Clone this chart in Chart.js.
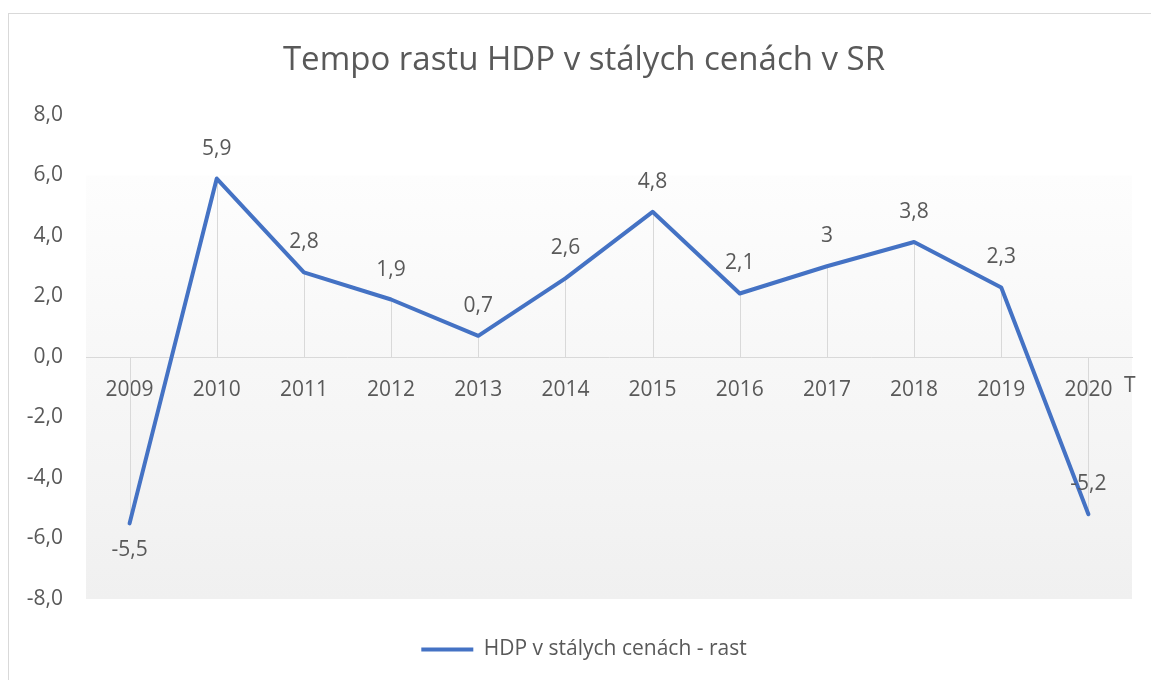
<!DOCTYPE html>
<html>
<head>
<meta charset="utf-8">
<script src="https://cdn.jsdelivr.net/npm/chart.js@4.4.0/dist/chart.umd.min.js"></script>
<style>
  body { margin: 0; background: #fff; }
  #wrap { position: relative; width: 1151px; height: 680px; overflow: hidden; }
  #frame { position: absolute; left: 8px; top: 13px; width: 1200px; height: 700px; border: 1px solid #d9d9d9; }
  canvas { position: absolute; left: 0; top: 0; }
</style>
</head>
<body>
<div id="wrap">
  <div id="frame"></div>
  <canvas id="hdpChart" width="1151" height="680"></canvas>
</div>
<script>
const years = ['2009', '2010', '2011', '2012', '2013', '2014', '2015', '2016', '2017', '2018', '2019', '2020'];
const growth = [-5.5, 5.9, 2.8, 1.9, 0.7, 2.6, 4.8, 2.1, 3, 3.8, 2.3, -5.2];
const labelBelow = [true, false, false, false, false, false, false, false, false, false, false, false];
const yTicks = [-8, -6, -4, -2, 0, 2, 4, 6, 8];

const textColor = '#595959';
const fontFamily = '"Open Sans", sans-serif';

const fmt = (v) => String(v).replace('.', ',');

// plot background, drop lines, data labels and the clipped "T"
const excelLook = {
  id: 'excelLook',
  beforeDraw(chart) {
    const { ctx, chartArea: a, scales } = chart;
    const top = scales.y.getPixelForValue(6);
    const g = ctx.createLinearGradient(0, top, 0, a.bottom);
    g.addColorStop(0, '#fdfdfd');
    g.addColorStop(1, '#f0f0f0');
    ctx.save();
    ctx.fillStyle = g;
    ctx.fillRect(a.left, top, a.right - a.left, a.bottom - top);
    ctx.restore();
  },
  beforeDatasetsDraw(chart) {
    const { ctx, scales } = chart;
    const zero = scales.y.getPixelForValue(0);
    ctx.save();
    ctx.strokeStyle = '#d9d9d9';
    ctx.lineWidth = 1;
    growth.forEach((v, i) => {
      const x = Math.round(scales.x.getPixelForValue(i)) + 0.5;
      ctx.beginPath();
      ctx.moveTo(x, zero);
      ctx.lineTo(x, scales.y.getPixelForValue(v));
      ctx.stroke();
    });
    ctx.restore();
  },
  afterDatasetsDraw(chart) {
    const { ctx, scales, chartArea: a } = chart;
    ctx.save();
    ctx.fillStyle = textColor;
    ctx.font = '21px ' + fontFamily;
    ctx.textAlign = 'center';
    ctx.textBaseline = 'middle';
    growth.forEach((v, i) => {
      const x = scales.x.getPixelForValue(i);
      const y = scales.y.getPixelForValue(v) + (labelBelow[i] ? 27 : -30);
      ctx.fillText(fmt(v), x, y);
    });
    ctx.textAlign = 'left';
    ctx.fillText('T', a.right - 8, scales.y.getPixelForValue(0) + 29);
    ctx.restore();
  }
};

new Chart(document.getElementById('hdpChart'), {
  type: 'line',
  data: {
    labels: years,
    datasets: [{
      label: 'HDP v stálych cenách - rast',
      data: growth,
      borderColor: '#4472c4',
      backgroundColor: '#4472c4',
      borderWidth: 4,
      pointRadius: 0,
      tension: 0,
      borderCapStyle: 'round',
      borderJoinStyle: 'round'
    }]
  },
  options: {
    responsive: false,
    animation: false,
    // right padding < 0 so title and legend center on the whole frame, like Excel
    layout: { padding: { left: 10, right: -7, top: 0, bottom: 10 } },
    plugins: {
      title: {
        display: true,
        text: 'Tempo rastu HDP v stálych cenách v SR',
        color: textColor,
        font: { family: fontFamily, size: 33, weight: 400 },
        padding: { top: 41, bottom: 34.4 }
      },
      legend: {
        position: 'bottom',
        labels: {
          usePointStyle: true,
          pointStyle: 'line',
          pointStyleWidth: 52,
          color: textColor,
          font: { family: fontFamily, size: 21 },
          padding: 40
        }
      },
      tooltip: { enabled: false }
    },
    scales: {
      x: {
        type: 'category',
        position: { y: 0 },
        offset: true,
        grid: { display: false, drawTicks: false },
        border: { display: true, color: '#d9d9d9', width: 1 },
        ticks: {
          color: textColor,
          font: { family: fontFamily, size: 21 },
          padding: 20,
          maxRotation: 0
        }
      },
      y: {
        min: -8,
        max: 8,
        afterBuildTicks: (s) => { s.ticks = yTicks.map(v => ({ value: v })); },
        afterFit: (s) => { s.width = 76; },
        grid: { display: false, drawTicks: false },
        border: { display: false },
        ticks: {
          color: textColor,
          font: { family: fontFamily, size: 21 },
          padding: 23,
          callback: (v) => v.toFixed(1).replace('.', ',')
        }
      },
      // empty right gutter between plot and frame edge
      gutter: {
        position: 'right',
        min: -8,
        max: 8,
        afterFit: (s) => { s.width = 26; },
        grid: { display: false, drawTicks: false },
        border: { display: false },
        ticks: { display: false }
      }
    }
  },
  plugins: [excelLook]
});
</script>
</body>
</html>
